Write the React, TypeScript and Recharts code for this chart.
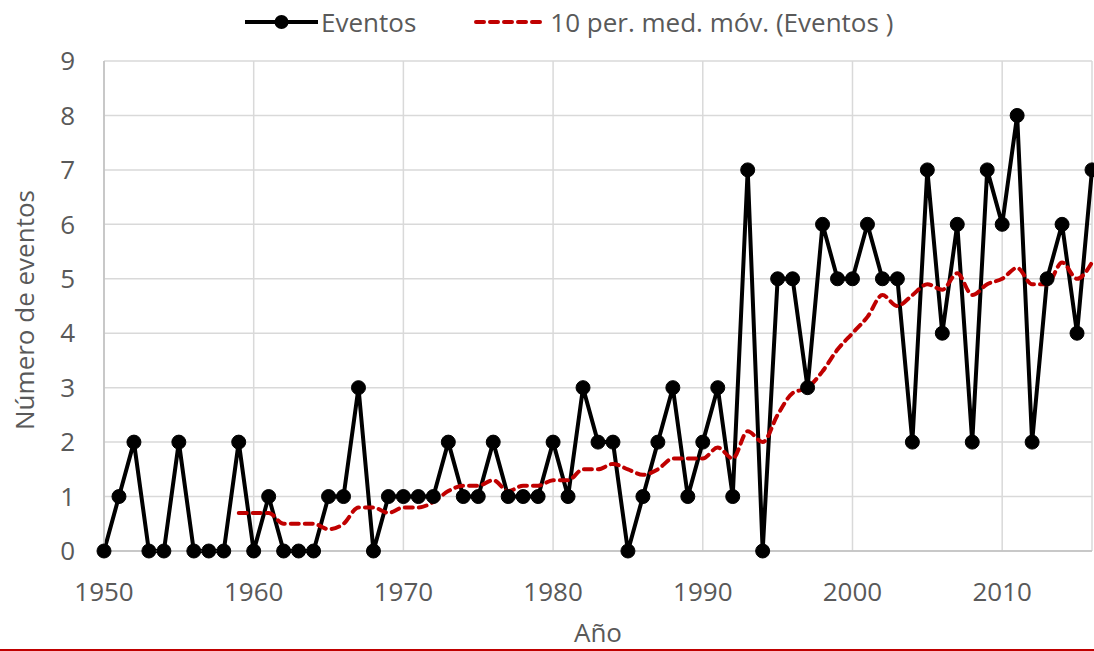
import React from "react";
import { LineChart, Line, XAxis, YAxis, CartesianGrid, Legend } from "recharts";

const years = [
  1950, 1951, 1952, 1953, 1954, 1955, 1956, 1957, 1958, 1959,
  1960, 1961, 1962, 1963, 1964, 1965, 1966, 1967, 1968, 1969,
  1970, 1971, 1972, 1973, 1974, 1975, 1976, 1977, 1978, 1979,
  1980, 1981, 1982, 1983, 1984, 1985, 1986, 1987, 1988, 1989,
  1990, 1991, 1992, 1993, 1994, 1995, 1996, 1997, 1998, 1999,
  2000, 2001, 2002, 2003, 2004, 2005, 2006, 2007, 2008, 2009,
  2010, 2011, 2012, 2013, 2014, 2015, 2016,
];

const eventos = [
  0, 1, 2, 0, 0, 2, 0, 0, 0, 2,
  0, 1, 0, 0, 0, 1, 1, 3, 0, 1,
  1, 1, 1, 2, 1, 1, 2, 1, 1, 1,
  2, 1, 3, 2, 2, 0, 1, 2, 3, 1,
  2, 3, 1, 7, 0, 5, 5, 3, 6, 5,
  5, 6, 5, 5, 2, 7, 4, 6, 2, 7,
  6, 8, 2, 5, 6, 4, 7,
];

const mediaMovil: (number | null)[] = [
  null, null, null, null, null, null, null, null, null, 0.7,
  0.7, 0.7, 0.5, 0.5, 0.5, 0.4, 0.5, 0.8, 0.8, 0.7,
  0.8, 0.8, 0.9, 1.1, 1.2, 1.2, 1.3, 1.1, 1.2, 1.2,
  1.3, 1.3, 1.5, 1.5, 1.6, 1.5, 1.4, 1.5, 1.7, 1.7,
  1.7, 1.9, 1.7, 2.2, 2.0, 2.5, 2.9, 3.0, 3.3, 3.7,
  4.0, 4.3, 4.7, 4.5, 4.7, 4.9, 4.8, 5.1, 4.7, 4.9,
  5.0, 5.2, 4.9, 4.9, 5.3, 5.0, 5.3,
];

const xTicks = [1950, 1960, 1970, 1980, 1990, 2000, 2010];
const yTicks = [0, 1, 2, 3, 4, 5, 6, 7, 8, 9];

const seriesNames = ["Eventos", "10 per. med. móv. (Eventos )"];

const data = years.map((y, i) => ({ year: y, eventos: eventos[i], media: mediaMovil[i] }));

const FONT = "'Open Sans', 'Noto Sans', sans-serif";
const TEXT = "#595959";

const LegendContent = () => (
  <div
    style={{
      height: 44,
      display: "flex",
      alignItems: "center",
      paddingLeft: 245,
      fontFamily: FONT,
      fontSize: 26,
      color: TEXT,
      whiteSpace: "nowrap",
    }}
  >
    <svg width={73} height={20} style={{ display: "block" }}>
      <line x1={0} y1={10} x2={73} y2={10} stroke="#000" strokeWidth={4} />
      <circle cx={36.5} cy={10} r={7} fill="#000" />
    </svg>
    <span style={{ marginLeft: 3 }}>{seriesNames[0]}</span>
    <svg width={72} height={20} style={{ display: "block", marginLeft: 58 }}>
      <line
        x1={2}
        y1={10}
        x2={70}
        y2={10}
        stroke="#c00000"
        strokeWidth={4}
        strokeDasharray="8 6"
        strokeLinecap="round"
      />
    </svg>
    <span style={{ marginLeft: 4 }}>{seriesNames[1]}</span>
  </div>
);

export default function App() {
  return (
    <div style={{ position: "absolute", left: 0, top: 0, width: 1094, height: 651, background: "#fff" }}>
      <LineChart
        width={1094}
        height={651}
        data={data}
        margin={{ top: 17, right: 2, bottom: 0, left: 0 }}
      >
        <CartesianGrid stroke="#d9d9d9" strokeWidth={1.5} />
        <XAxis
          dataKey="year"
          type="number"
          domain={[1950, 2016]}
          ticks={xTicks}
          allowDecimals={false}
          height={100}
          tickLine={false}
          tickSize={0}
          tickMargin={32}
          axisLine={{ stroke: "#bfbfbf", strokeWidth: 1.5 }}
          tick={{ fill: TEXT, fontSize: 26, fontFamily: FONT }}
          interval={0}
          label={{
            value: "Año",
            position: "insideBottom",
            offset: 9,
            style: { fill: TEXT, fontSize: 26, fontFamily: FONT },
          }}
        />
        <YAxis
          type="number"
          domain={[0, 9]}
          ticks={yTicks}
          width={104}
          tickLine={false}
          tickSize={0}
          tickMargin={29}
          interval={0}
          axisLine={{ stroke: "#bfbfbf", strokeWidth: 1.5 }}
          tick={{ fill: TEXT, fontSize: 26, fontFamily: FONT }}
          label={{
            value: "Número de eventos",
            angle: -90,
            position: "insideLeft",
            offset: 25,
            dy: 4,
            style: { fill: TEXT, fontSize: 26, fontFamily: FONT, textAnchor: "middle" },
          }}
        />
        <Legend
          verticalAlign="top"
          align="left"
          content={<LegendContent />}
          wrapperStyle={{ top: 0, left: 0, width: 1094 }}
        />
        <Line
          type="linear"
          dataKey="eventos"
          name={seriesNames[0]}
          stroke="#000"
          strokeWidth={4}
          strokeLinejoin="round"
          dot={{ r: 7, fill: "#000", stroke: "#000", strokeWidth: 1 }}
          activeDot={false}
          isAnimationActive={false}
        />
        <Line
          type="monotone"
          dataKey="media"
          name={seriesNames[1]}
          stroke="#c00000"
          strokeWidth={4}
          strokeDasharray="8 6"
          strokeLinecap="round"
          dot={false}
          activeDot={false}
          connectNulls={false}
          isAnimationActive={false}
        />
      </LineChart>
      <div style={{ position: "absolute", left: 0, top: 649, width: 1094, height: 1.5, background: "#c00000" }} />
    </div>
  );
}
